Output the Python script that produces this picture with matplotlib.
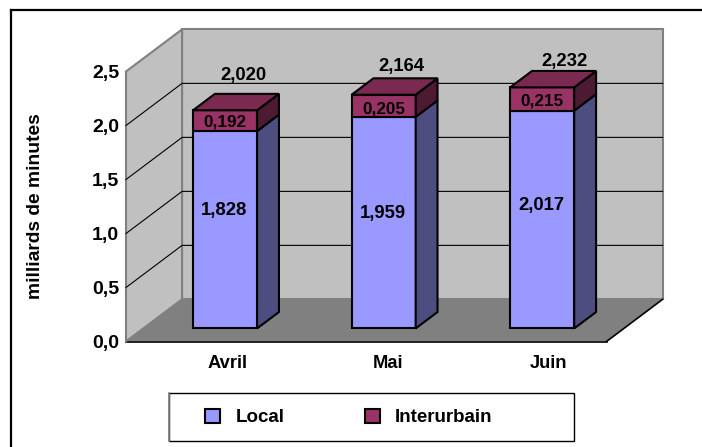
import matplotlib
matplotlib.use("Agg")
from matplotlib.patches import Polygon, Rectangle
from matplotlib.lines import Line2D
import matplotlib.pyplot as plt
import numpy as np

months = ["Avril", "Mai", "Juin"]
local = [1.828, 1.959, 2.017]
interurbain = [0.192, 0.205, 0.215]
totals = [2.020, 2.164, 2.232]
y_ticks = [0.0, 0.5, 1.0, 1.5, 2.0, 2.5]

W, H = 702, 447
DEPTH_X = 0.35  # full depth of the box in category units
DEPTH_Y = 0.39  # and in value units
BAR_W = 0.40
BAR_STEP = 0.99
BAR_FRONT = 0.31
BAR_BACK = 0.70
# hand placed labels in the original, offsets in px
TOTAL_LABEL_DX = [18, 18, 22]
TOTAL_LABEL_PX = [35, 28, 26]
LOCAL_LABEL_PX = [19, 9, 14]
INTER_LABEL_PX = [-1, -3, -2]

plt.rcParams["font.family"] = ["Liberation Sans", "DejaVu Sans"]
plt.rcParams["font.weight"] = "bold"


def fr(v):
    return f"{v:.3f}".replace(".", ",")


def project(x, y, d):
    return (x + d * DEPTH_X, y + d * DEPTH_Y)


def poly(ax, pts, face, edge="black", lw=1.5, z=3):
    ax.add_patch(Polygon(pts, closed=True, facecolor=face, edgecolor=edge, linewidth=lw,
                         joinstyle="miter", clip_on=False, zorder=z))


def draw_walls(ax):
    n = len(months)
    top = y_ticks[-1]
    poly(ax, [project(0, 0, 1), project(n, 0, 1), project(n, top, 1), project(0, top, 1)],
         "#C0C0C0", "#808080", 1.5, 1)
    poly(ax, [project(0, 0, 0), project(0, 0, 1), project(0, top, 1), project(0, top, 0)],
         "#C0C0C0", "#808080", 1.5, 1)
    poly(ax, [project(0, 0, 0), project(n, 0, 0), project(n, 0, 1), project(0, 0, 1)],
         "#808080", "none", 0, 1)
    for a, b, c in [(project(0, 0, 0), project(n, 0, 0), "black"),
                    (project(n, 0, 0), project(n, 0, 1), "black"),
                    (project(0, 0, 0), project(0, 0, 1), "#808080")]:
        ax.plot([a[0], b[0]], [a[1], b[1]], color=c, lw=1.2, clip_on=False, zorder=1.5)
    for t in y_ticks[1:-1]:
        a, b, c = project(0, t, 0), project(0, t, 1), project(n, t, 1)
        ax.plot([a[0], b[0], c[0]], [a[1], b[1], c[1]], color="black", lw=0.8,
                clip_on=False, zorder=1.5)


def bar_center(i):
    return len(months) / 2 + (i - 1) * BAR_STEP


def draw_segment(ax, i, y0, y1, front, side, top=None):
    x0 = bar_center(i) - BAR_W / 2
    x1 = x0 + BAR_W
    poly(ax, [project(x0, y0, BAR_FRONT), project(x1, y0, BAR_FRONT),
              project(x1, y1, BAR_FRONT), project(x0, y1, BAR_FRONT)], front)
    poly(ax, [project(x1, y0, BAR_FRONT), project(x1, y0, BAR_BACK),
              project(x1, y1, BAR_BACK), project(x1, y1, BAR_FRONT)], side)
    if top:
        poly(ax, [project(x0, y1, BAR_FRONT), project(x1, y1, BAR_FRONT),
                  project(x1, y1, BAR_BACK), project(x0, y1, BAR_BACK)], top)


fig = plt.figure(figsize=(W / 100, H / 100), dpi=100)
ax = fig.add_axes([126 / W, (H - 341.5) / H, 480.5 / W, 270 / H])
ax.set_xlim(0, len(months))
ax.set_ylim(0, y_ticks[-1])
ax.patch.set_visible(False)
for s in ax.spines.values():
    s.set_visible(False)

draw_walls(ax)

px = 0.72  # points per px at dpi 100
for i in range(len(months)):
    draw_segment(ax, i, 0, local[i], "#9999FF", "#4D4D80")
    draw_segment(ax, i, local[i], totals[i], "#993366", "#4D1A33", "#7A2950")
    cx = project(bar_center(i), 0, BAR_FRONT)[0]
    base = project(0, 0, BAR_FRONT)[1]
    ax.annotate(fr(local[i]), (cx, base + local[i] / 2), xytext=(-1 * px, LOCAL_LABEL_PX[i] * px),
                textcoords="offset points", ha="center", va="center", fontsize=13.3, zorder=5)
    ax.annotate(fr(interurbain[i]), (cx, base + local[i] + interurbain[i] / 2),
                xytext=(0, INTER_LABEL_PX[i] * px), textcoords="offset points",
                ha="center", va="center", fontsize=12.3, zorder=5)
    ax.annotate(fr(totals[i]), (cx, base + totals[i]),
                xytext=(TOTAL_LABEL_DX[i] * px, TOTAL_LABEL_PX[i] * px),
                textcoords="offset points", ha="center", va="center", fontsize=13.3,
                annotation_clip=False, zorder=5)

ax.set_xticks(np.arange(len(months)) + 0.5 + 0.135, months, fontsize=13.2)
ax.set_yticks(y_ticks, [f"{t:.1f}".replace(".", ",") for t in y_ticks], fontsize=14)
ax.tick_params(length=0)
ax.tick_params(axis="y", pad=5)
ax.tick_params(axis="x", pad=10)
ax.set_ylabel("milliards de minutes", fontsize=13.9, fontweight="bold")
ax.yaxis.set_label_coords(-(126 - 44) / 480.5, 0.50)

# legend box drawn apart, its padding is wider than tall
fig.add_artist(Rectangle((168.5 / W, (H - 441) / H), 405.5 / W, 48 / H, transform=fig.transFigure,
                         facecolor="white", edgecolor="black", linewidth=1.0, zorder=2))
fig.add_artist(Line2D([168.5 / W, 168.5 / W], [(H - 441) / H, (H - 393) / H], color="#808080",
                      lw=1.2, zorder=2.1))
handles = [Rectangle((0, 0), 1, 1, facecolor="#9999FF", edgecolor="black", linewidth=1.5),
           Rectangle((0, 0), 1, 1, facecolor="#993366", edgecolor="black", linewidth=1.5)]
leg = fig.legend(handles, ["Local", "Interurbain"], ncols=2, fontsize=13.5,
                 loc="center", bbox_to_anchor=(349 / W, (H - 417.5) / H),
                 frameon=False, handlelength=0.8, handleheight=0.8, handletextpad=0.8,
                 columnspacing=4.3, borderpad=0, borderaxespad=0)
leg.set_zorder(3)

# outer frame, right and bottom edges fall off the picture
fig.add_artist(Line2D([10.5 / W, 10.5 / W], [0, (H - 9.5) / H], color="black", lw=1.6))
fig.add_artist(Line2D([10.5 / W, 1], [(H - 9.5) / H, (H - 9.5) / H], color="black", lw=1.6))

fig.savefig("out.png", dpi=100)
